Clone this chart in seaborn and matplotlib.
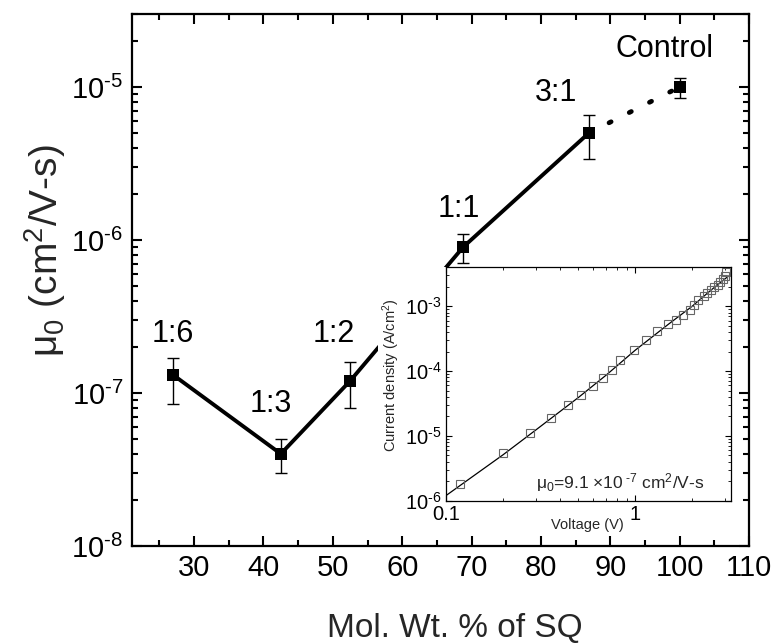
import matplotlib
matplotlib.use("Agg")
import matplotlib.pyplot as plt
import seaborn as sns
import pandas as pd
import numpy as np
from matplotlib.patches import Rectangle
from matplotlib.ticker import MultipleLocator, LogLocator, NullFormatter, FuncFormatter

# ---------------- data ----------------
ratios = ["1:6", "1:3", "1:2", "1:1", "3:1", "Control"]
sq_wt = [27.0, 42.5, 52.5, 68.8, 86.9, 100.0]
mobility = [1.31e-7, 4.0e-8, 1.2e-7, 9.0e-7, 5.0e-6, 1.0e-5]
mob_low = [8.5e-8, 3.0e-8, 8.0e-8, 7.1e-7, 3.4e-6, 8.5e-6]
mob_high = [1.7e-7, 5.0e-8, 1.6e-7, 1.1e-6, 6.6e-6, 1.15e-5]

# inset J-V data
voltage = [0.119, 0.199, 0.278, 0.358, 0.439, 0.516, 0.595, 0.675, 0.750, 0.833,
           0.99, 1.14, 1.30, 1.49, 1.65, 1.80, 1.94, 2.05, 2.16, 2.30,
           2.41, 2.52, 2.62, 2.73, 2.82, 2.91, 2.97, 3.03]
current = [1.80e-6, 5.41e-6, 1.11e-5, 1.91e-5, 2.96e-5, 4.28e-5, 5.87e-5, 7.88e-5, 1.035e-4, 1.46e-4,
           2.15e-4, 3.07e-4, 4.12e-4, 5.28e-4, 6.10e-4, 7.44e-4, 8.89e-4, 1.06e-3, 1.24e-3, 1.43e-3,
           1.60e-3, 1.80e-3, 1.98e-3, 2.15e-3, 2.37e-3, 2.63e-3, 2.96e-3, 3.34e-3]
fit_v = [0.1, 0.2, 0.3, 0.5, 0.7, 1.0, 1.5, 2.0, 2.5, 3.1]
fit_j = [1.2e-6, 5.1e-6, 1.25e-5, 3.9e-5, 8.6e-5, 2.1e-4, 5.3e-4, 1.0e-3, 1.75e-3, 2.9e-3]

# label anchor positions (data coords, baseline)
label_x = [27.0, 41.1, 50.1, 68.1, 82.2, 97.8]
label_y = [2.16e-7, 7.55e-8, 2.16e-7, 1.42e-6, 8.13e-6, 1.58e-5]

# ---------------- style ----------------
sns.set_theme(style="ticks")
plt.rcParams["font.family"] = ["Liberation Sans", "DejaVu Sans"]
plt.rcParams["mathtext.fontset"] = "custom"
plt.rcParams["mathtext.rm"] = "Liberation Sans"
plt.rcParams["mathtext.it"] = "Liberation Sans:italic"
plt.rcParams["mathtext.bf"] = "Liberation Sans:bold"
plt.rcParams["mathtext.default"] = "regular"
plt.rcParams["axes.unicode_minus"] = False


def pow10(v, pos=None):
    n = int(round(np.log10(v)))
    return r"$10^{\text{-}%d}$" % abs(n) if n < 0 else r"$10^{%d}$" % n


fig = plt.figure(figsize=(7.75, 6.43), dpi=100)
fig.patch.set_facecolor("white")

ax = fig.add_axes([0.1699, 0.1509, 0.7966, 0.8273])
ax.set_yscale("log")
ax.set_xlim(21, 110)
ax.set_ylim(1e-8, 3e-5)

df = pd.DataFrame({"x": sq_wt, "y": mobility, "lo": mob_low, "hi": mob_high, "r": ratios})
solid = df.iloc[:5]
dotted = df.iloc[4:]

sns.lineplot(data=solid, x="x", y="y", ax=ax, color="black", linewidth=2.8,
             sort=False, estimator=None, zorder=2)
sns.lineplot(data=dotted, x="x", y="y", ax=ax, color="black", linewidth=3.4,
             sort=False, estimator=None, zorder=2)
dl = ax.get_lines()[-1]
dl.set_linestyle((0, (0.5, 4.3)))
dl.set_dash_capstyle("round")

ax.errorbar(df["x"], df["y"],
            yerr=[df["y"] - df["lo"], df["hi"] - df["y"]],
            fmt="none", ecolor="black", elinewidth=1.0, capsize=4.5, capthick=1.0, zorder=3)
sns.scatterplot(data=df, x="x", y="y", ax=ax, color="black", marker="s", s=75,
                edgecolor="black", linewidth=0, zorder=4)

for r, lx, ly in zip(ratios, label_x, label_y):
    ax.text(lx, ly, r, fontsize=22, ha="center", va="baseline", color="black")

ax.xaxis.set_major_locator(MultipleLocator(10))
ax.xaxis.set_minor_locator(MultipleLocator(5))
ax.yaxis.set_major_locator(LogLocator(base=10, numticks=10))
ax.yaxis.set_major_formatter(FuncFormatter(pow10))
ax.yaxis.set_minor_locator(LogLocator(base=10, subs=range(2, 10), numticks=20))
ax.yaxis.set_minor_formatter(NullFormatter())
ax.tick_params(which="both", direction="in", top=True, right=True, colors="black")
ax.tick_params(which="major", length=7.5, width=1.5, labelsize=21, pad=6)
ax.tick_params(which="minor", length=4.2, width=1.5)
for sp in ax.spines.values():
    sp.set_linewidth(1.6)
    sp.set_color("black")

ax.set_xlabel("Mol. Wt. % of SQ", fontsize=24)
ax.xaxis.set_label_coords(0.524, -0.171)
ax.xaxis.label.set_va("baseline")
ax.set_ylabel("\u03bc$_0$ (cm$^2$/V-s)", fontsize=28)
ax.yaxis.set_label_coords(-0.141, 0.556)
ax.yaxis.label.set_va("center")

# white backing behind inset (hides main line)
ax.add_patch(Rectangle((0.399, 0.0207), 0.5735, 0.5032, transform=ax.transAxes,
                       facecolor="white", edgecolor="none", zorder=10, clip_on=False))

# ---------------- inset ----------------
ins = fig.add_axes([0.5755, 0.2213, 0.3674, 0.3630])
ins.set_zorder(5)
ins.set_facecolor("white")
ins.set_xscale("log")
ins.set_yscale("log")
ins.set_xlim(0.1, 3.2)
ins.set_ylim(1e-6, 4e-3)

sns.lineplot(x=fit_v, y=fit_j, ax=ins, color="black", linewidth=0.9, sort=False, estimator=None)
sns.lineplot(x=voltage, y=current, ax=ins, linewidth=0, marker="s", markersize=5.2,
             markerfacecolor="none", markeredgecolor="#666666", markeredgewidth=0.8,
             sort=False, estimator=None, color="#666666")

ins.set_xticks([0.1, 1], ["0.1", "1"])
ins.xaxis.set_minor_locator(LogLocator(base=10, subs=range(2, 10), numticks=20))
ins.xaxis.set_minor_formatter(NullFormatter())
ins.yaxis.set_major_locator(LogLocator(base=10, numticks=10))
ins.yaxis.set_major_formatter(FuncFormatter(pow10))
ins.yaxis.set_minor_locator(LogLocator(base=10, subs=range(2, 10), numticks=20))
ins.yaxis.set_minor_formatter(NullFormatter())
ins.tick_params(which="both", direction="in", top=True, right=True, colors="black")
ins.tick_params(which="major", length=4.5, width=0.8, labelsize=14.5, pad=3)
ins.tick_params(which="minor", length=2.5, width=0.6)
for sp in ins.spines.values():
    sp.set_linewidth(0.9)
    sp.set_color("black")

ins.set_xlabel("Voltage (V)", fontsize=10.5)
ins.xaxis.set_label_coords(0.495, -0.1225)
ins.xaxis.label.set_va("baseline")
ins.set_ylabel("Current density (A/cm$^2$)", fontsize=10.5)
ins.yaxis.set_label_coords(-0.193, 0.539)
ins.yaxis.label.set_va("center")

ins.text(0.611, 0.053, "\u03bc$_0$=9.1 \u00d710$^{\\ \\text{-}7}$ cm$^2$/V-s", transform=ins.transAxes,
         fontsize=12.5, ha="center", va="baseline")

fig.savefig("out.png", dpi=100, facecolor="white")
